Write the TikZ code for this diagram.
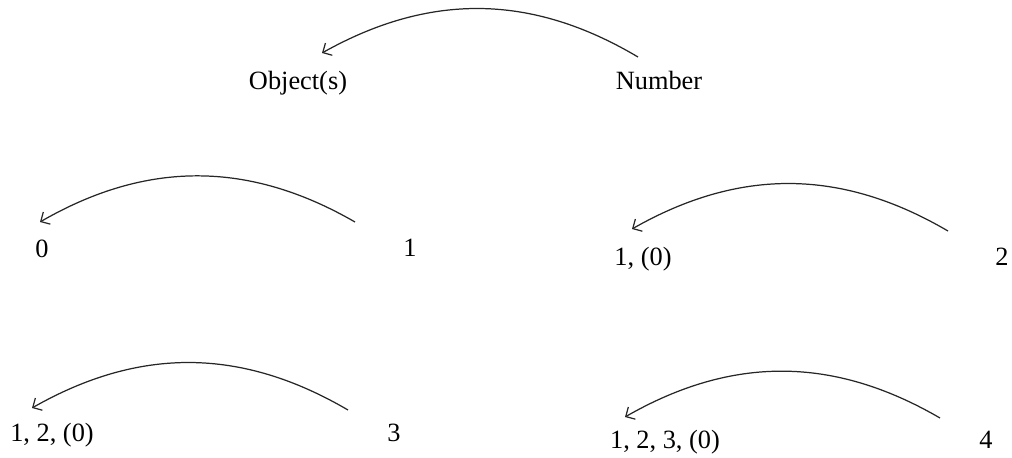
\documentclass[tikz,border=0pt]{standalone}
\usepackage{fontspec}
\setmainfont{Liberation Serif}
\usetikzlibrary{positioning, arrows.meta, calc}

\begin{document}
\begin{tikzpicture}[
    x=0.02cm, y=-0.02cm,
    lbl/.style={anchor=base, inner sep=0pt, font=\fontsize{15}{18}\selectfont},
    back/.style={line width=0.7pt, black!85, -{Straight Barb[length=4pt, width=8pt]}, bend right=30},
]
    \useasboundingbox (0,0) rectangle (1012,457);

    % --- heading ---
    \node[lbl] (objects) at (298,89) {Object(s)};
    \node[lbl] (number)  at (659,89) {Number};

    % --- pairs ---
    \node[lbl] (z0) at (42,257)  {0};
    \node[lbl] (n1) at (410,256) {1};

    \node[lbl] (s1) at (643,265)  {1, (0)};
    \node[lbl] (n2) at (1002,265) {2};

    \node[lbl] (s2) at (52,441)  {1, 2, (0)};
    \node[lbl] (n3) at (394,441) {3};

    \node[lbl] (s3) at (665,448) {1, 2, 3, (0)};
    \node[lbl] (n4) at (986,448) {4};

    % arcs from number back to objects
    \draw[back] ($(number.base)+(-21,-32)$) to ($(objects.base)+(24,-36)$);
    \draw[back] ($(n1.base)+(-55,-34)$) to ($(z0.base)+(-2,-35)$);
    \draw[back] ($(n2.base)+(-54,-34)$) to ($(s1.base)+(-11,-36)$);
    \draw[back] ($(n3.base)+(-46,-31)$) to ($(s2.base)+(-20,-33)$);
    \draw[back] ($(n4.base)+(-46,-30)$) to ($(s3.base)+(-40,-31)$);

\end{tikzpicture}
\end{document}
